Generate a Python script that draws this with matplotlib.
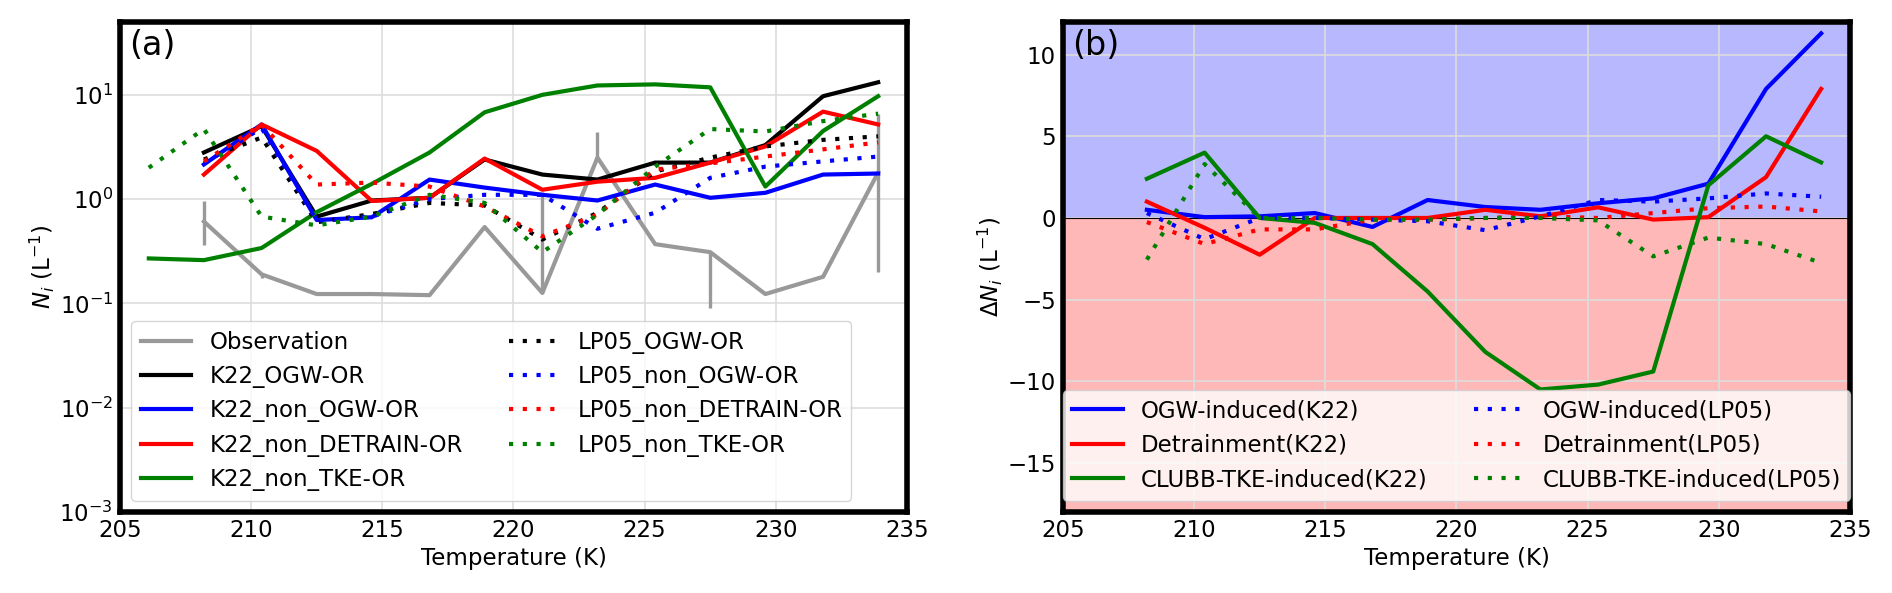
import numpy as np
import matplotlib
matplotlib.use("Agg")
import matplotlib.pyplot as plt

plt.rcParams['font.size'] = 16.5

# temperature bin centres (K)
temp = [206.1, 208.2, 210.4, 212.5, 214.6, 216.8, 218.9, 221.1, 223.2, 225.4, 227.5, 229.6, 231.8, 233.9]
temp_b = temp[1:]

# ---------- panel (a): Ni (L-1) ----------
obs = [0.61, 0.19, 0.123, 0.123, 0.12, 0.54, 0.126, 2.5, 0.37, 0.31, 0.123, 0.18, 1.8]
obs_err_lo = [0.25, 0.015, 0, 0, 0, 0, 0, 0, 0, 0.22, 0, 0, 1.6]
obs_err_hi = [0.34, 0, 0, 0, 0, 0, 1.05, 1.86, 0, 0, 0, 0, 4.7]

k22_ogw = [2.8, 5.0, 0.68, 0.97, 1.03, 2.4, 1.72, 1.54, 2.24, 2.24, 3.3, 9.7, 13.2]
k22_non_ogw = [2.15, 5.2, 0.63, 0.67, 1.54, 1.29, 1.1, 0.97, 1.38, 1.03, 1.15, 1.72, 1.76]
k22_non_detrain = [1.72, 5.2, 2.9, 0.96, 1.03, 2.45, 1.23, 1.47, 1.6, 2.24, 3.2, 6.9, 5.2]
k22_non_tke = [0.27, 0.26, 0.34, 0.75, 1.4, 2.8, 6.8, 10.0, 12.3, 12.6, 11.8, 1.32, 4.5, 9.7]

lp05_ogw = [2.4, 3.9, 0.6, 0.72, 0.92, 0.87, 0.41, 0.74, 1.84, 2.5, 3.2, 3.7, 4.0]
lp05_non_ogw = [2.2, 4.8, 0.62, 0.68, 1.0, 1.1, 1.1, 0.52, 0.74, 1.6, 2.05, 2.3, 2.56]
lp05_non_detrain = [2.3, 5.2, 1.38, 1.44, 1.32, 0.85, 0.44, 0.71, 1.92, 2.2, 2.56, 3.0, 3.5]
lp05_non_tke = [2.0, 4.7, 0.68, 0.56, 0.68, 1.1, 0.92, 0.31, 0.71, 2.05, 4.7, 4.45, 5.6, 6.6]

# ---------- panel (b): delta Ni (L-1) ----------
d_ogw_k22 = [0.5, 0.05, 0.1, 0.3, -0.55, 1.1, 0.67, 0.5, 0.9, 1.2, 2.1, 7.9, 11.3]
d_det_k22 = [1.0, -0.6, -2.25, 0.0, 0.0, 0.0, 0.5, 0.1, 0.65, -0.1, 0.05, 2.5, 7.9]
d_tke_k22 = [2.4, 4.0, 0.0, -0.3, -1.6, -4.5, -8.2, -10.5, -10.2, -9.4, 2.0, 5.0, 3.4]
d_ogw_lp05 = [0.3, -1.3, 0.0, 0.0, -0.1, -0.2, -0.75, 0.1, 1.1, 1.0, 1.2, 1.5, 1.3]
d_det_lp05 = [-0.25, -1.6, -0.7, -0.7, -0.1, -0.1, 0.0, 0.1, 0.0, 0.3, 0.6, 0.7, 0.4]
d_tke_lp05 = [-2.55, 3.3, 0.0, 0.0, -0.1, -0.1, 0.0, 0.0, -0.15, -2.35, -1.2, -1.6, -2.75]

dot = (0, (1, 2.3))
lw = 3

fig = plt.figure(figsize=(18.92, 5.93), dpi=100)
ax1 = fig.add_axes([0.0634, 0.1366, 0.416, 0.8264])
ax2 = fig.add_axes([0.5618, 0.1366, 0.416, 0.8264])

# (a)
ax1.plot(temp_b, obs, color='#999999', lw=lw, label='Observation')
ax1.errorbar(temp_b, obs, yerr=[obs_err_lo, obs_err_hi], fmt='none',
             ecolor='#999999', elinewidth=2.4, capsize=0)
ax1.plot(temp_b, k22_ogw, color='black', lw=lw, label='K22_OGW-OR')
ax1.plot(temp_b, k22_non_ogw, color='blue', lw=lw, label='K22_non_OGW-OR')
ax1.plot(temp_b, k22_non_detrain, color='red', lw=lw, label='K22_non_DETRAIN-OR')
ax1.plot(temp, k22_non_tke, color='green', lw=lw, label='K22_non_TKE-OR')
ax1.plot(temp_b, lp05_ogw, color='black', lw=lw, ls=dot, label='LP05_OGW-OR')
ax1.plot(temp_b, lp05_non_ogw, color='blue', lw=lw, ls=dot, label='LP05_non_OGW-OR')
ax1.plot(temp_b, lp05_non_detrain, color='red', lw=lw, ls=dot, label='LP05_non_DETRAIN-OR')
ax1.plot(temp, lp05_non_tke, color='green', lw=lw, ls=dot, label='LP05_non_TKE-OR')
ax1.set_yscale('log')
ax1.set_ylim(1e-3, 50)
ax1.set_ylabel(r'$N_i$ (L$^{-1}$)', labelpad=2)
ax1.legend(loc='lower left', ncol=2, handlelength=2.2)
ax1.text(0.012, 0.985, '(a)', transform=ax1.transAxes, fontsize=24, va='top')

# (b)
ax2.axhspan(0, 12, color='blue', alpha=0.28, lw=0)
ax2.axhspan(-18, 0, color='red', alpha=0.28, lw=0)
ax2.axhline(0, color='black', lw=0.8)
ax2.plot(temp_b, d_ogw_k22, color='blue', lw=lw, label='OGW-induced(K22)')
ax2.plot(temp_b, d_det_k22, color='red', lw=lw, label='Detrainment(K22)')
ax2.plot(temp_b, d_tke_k22, color='green', lw=lw, label='CLUBB-TKE-induced(K22)')
ax2.plot(temp_b, d_ogw_lp05, color='blue', lw=lw, ls=dot, label='OGW-induced(LP05)')
ax2.plot(temp_b, d_det_lp05, color='red', lw=lw, ls=dot, label='Detrainment(LP05)')
ax2.plot(temp_b, d_tke_lp05, color='green', lw=lw, ls=dot, label='CLUBB-TKE-induced(LP05)')
ax2.set_ylim(-18, 12)
ax2.set_yticks([-15, -10, -5, 0, 5, 10])
ax2.set_ylabel(r'$\Delta N_i$ (L$^{-1}$)', labelpad=2)
ax2.legend(loc='lower center', ncol=2, handlelength=2.2)
ax2.text(0.012, 0.985, '(b)', transform=ax2.transAxes, fontsize=24, va='top')

for ax in (ax1, ax2):
    ax.set_xlim(205, 235)
    ax.set_xticks([205, 210, 215, 220, 225, 230, 235])
    ax.set_xlabel('Temperature (K)')
    ax.grid(True, color='#dddddd', lw=1.2)
    ax.minorticks_off()
    ax.tick_params(length=0, pad=5)
    for sp in ax.spines.values():
        sp.set_linewidth(4)

fig.savefig('out.png', dpi=100)
